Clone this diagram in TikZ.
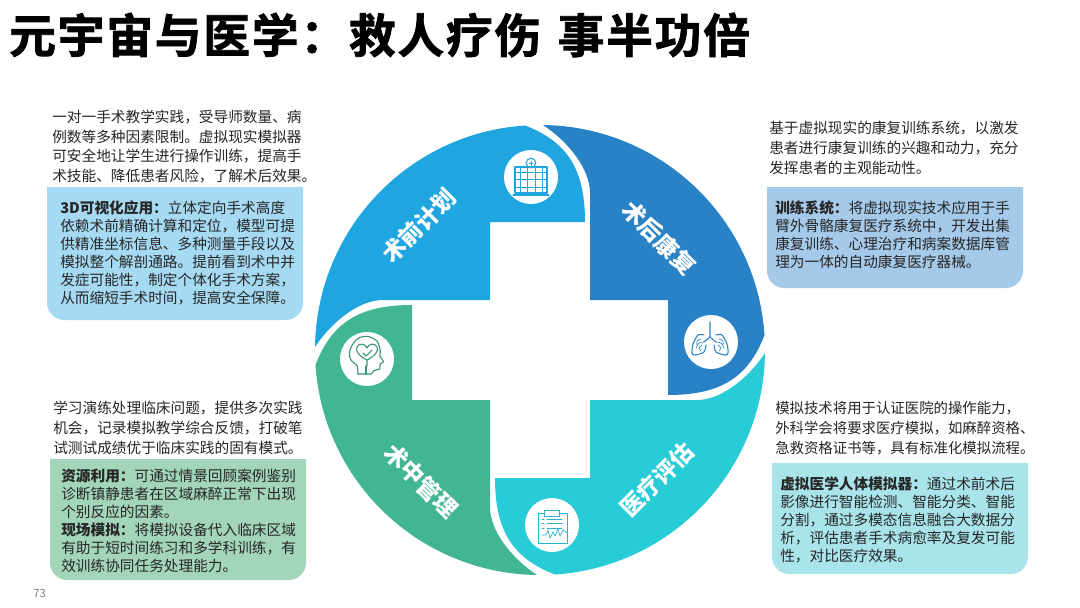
\documentclass[tikz,border=0pt]{standalone}
\usepackage{fontspec}
\setmainfont{Noto Sans CJK SC}
\newfontfamily\titlefont[LetterSpace=4,FakeBold=1.6]{Noto Sans CJK SC Bold}
\definecolor{segPlan}{HTML}{1FA6E0}
\definecolor{segRehab}{HTML}{2A82C6}
\definecolor{segEval}{HTML}{27CCD6}
\definecolor{segManage}{HTML}{42B592}
\definecolor{boxPlan}{HTML}{A5DAF2}
\definecolor{boxRehab}{HTML}{A4C9E9}
\definecolor{boxEval}{HTML}{A8E4EA}
\definecolor{boxManage}{HTML}{A3D5BB}
\definecolor{bodyInk}{HTML}{262626}
\tikzset{
    para/.style={anchor=west, inner sep=0pt, align=left, text=bodyInk, font=\fontsize{11}{14.8}\selectfont},
    boxtext/.style={anchor=west, inner sep=0pt, align=left, text=bodyInk, font=\fontsize{11}{13.4}\selectfont},
    seglabel/.style={text=white, inner sep=0pt, font=\fontsize{17.3}{20}\selectfont\bfseries},
    iconline/.style={line width=0.8pt, line cap=round, line join=round},
    iconthin/.style={line width=0.5pt, line cap=round, line join=round}
}
\newcommand{\softbox}[5]{\fill[#1] (#2,#3) -- (#4,#3) [rounded corners=13pt] -- (#4,#5) -- (#2,#5) [sharp corners] -- cycle;}
\begin{document}
\begin{tikzpicture}[x=0.75pt, y=-0.75pt]
    \fill[white] (0,0) rectangle (1080,607);
    \useasboundingbox (0,0) rectangle (1080,607);

    \coordinate (Mid) at (540,350);

    \foreach \ang/\col in {0/segPlan, -90/segRehab, 180/segEval, 90/segManage} {
        \fill[\col, shift={(Mid)}, rotate=\ang] (-225,-3) arc[start angle=179.24, end angle=93.8, radius=168.75pt]
            .. controls (28,-208) and (45,-180) .. (45,-128) -- (-50,-128) -- (-50,-50) -- (-157,-50)
            .. controls (-180,-50) and (-207,-30) .. (-225,-3) -- cycle;
    }

    \node[seglabel, rotate=45] (planLabel) at (419,226) {术前计划};
    \node[seglabel, rotate=-45] (rehabLabel) at (659,238) {术后康复};
    \node[seglabel, rotate=45] (evalLabel) at (657,480) {医疗评估};
    \node[seglabel, rotate=-45] (manageLabel) at (421,481) {术中管理};

    \fill[white] (531,177) circle (20.25pt);
    \fill[white] (711,342) circle (20.25pt);
    \fill[white] (552,525) circle (20.25pt);
    \fill[white] (367,359) circle (20.25pt);

    \begin{scope}[shift={(531,177)}, draw=segPlan]
        \draw[iconline] (-16,-10) rectangle (16,16);
        \draw[iconline] (-18,18) -- (18,18);
        \draw[iconline] (0,-14) circle (3.6pt);
        \draw[iconthin] (-2,-14) -- (2,-14) (0,-16) -- (0,-12) (0,-10) -- (0,-11);
        \foreach \yy in {-5,2.5,10} {
            \draw[iconthin] (-16,\yy) -- (16,\yy);
        }
        \foreach \xx in {-11,-4,4,11} {
            \draw[iconthin] (\xx,-10) -- (\xx,16);
        }
    \end{scope}

    \begin{scope}[shift={(711,342)}, draw=segRehab]
        \draw[iconline] (-1,-20) -- (-1,-5) -- (-7,0) (-1,-5) -- (5,0);
        \foreach \flip in {-1,1} {
            \begin{scope}[shift={(-1,0)}, xscale=\flip]
                \draw[iconline] plot[smooth] coordinates {(6,-7) (12,-7) (17,2) (18,11) (15,13) (6,10) (4,3)};
                \draw[iconthin] plot[smooth] coordinates {(6,0) (11,1) (14,6)};
                \draw[iconthin] plot[smooth] coordinates {(9,-3) (13,-1) (13,3)};
                \draw[iconthin] plot[smooth] coordinates {(8,3) (11,6) (9,9)};
            \end{scope}
        }
    \end{scope}

    \begin{scope}[shift={(552,525)}, draw=segEval!65!segRehab]
        \draw[iconthin] (-14,-12) rectangle (15,18);
        \draw[iconthin, fill=white] (-8,-15) rectangle (7,-9);
        \foreach \yy in {-6,-2,3} {
            \draw[iconthin] (-10,\yy) -- (-8,\yy) (-5,\yy) -- (10,\yy);
        }
        \draw[iconthin] (-10,10) -- (-6,10) -- (-4,5) -- (-2,13) -- (1,7) -- (3,11) -- (6,4) -- (8,11) -- (11,5) -- (15,8);
    \end{scope}

    \begin{scope}[shift={(367,359)}, draw=segManage!80!black]
        \draw[iconline] plot[smooth] coordinates {(-9,15) (-10,6.7) (-16.7,0) (-16.7,-10) (-10,-20) (0,-22.7) (10,-18) (13.3,-8.3) (12.7,-3.3)};
        \draw[iconline] (12.7,-3.3) -- (16.7,2.7) -- (13.3,5) -- (12.7,10) -- (6.7,11.7) -- (4.3,15) -- (-9,15);
        \draw[iconline] (0,7) .. controls (0,2) and (0,1) .. (0,1) .. controls (-8,-3) and (-12,-8) .. (-10,-12)
            .. controls (-8,-16) and (-2,-16) .. (0,-11) .. controls (2,-16) and (8,-16) .. (10,-12)
            .. controls (12,-8) and (8,-3) .. (0,1);
        \draw[iconline] (-1,7) -- (-1,15);
        \draw[iconline] (-4,-6) -- (-1,-3) -- (5,-9);
    \end{scope}

    \softbox{boxPlan}{47}{187}{303}{320}
    \softbox{boxRehab}{767}{187}{1023}{288}
    \softbox{boxManage}{50}{459}{306}{580}
    \softbox{boxEval}{772}{463}{1028}{574}

    \node[anchor=west, inner sep=0pt, font=\titlefont\fontsize{35}{40}\selectfont] (title) at (9,35) {元宇宙与医学：救人疗伤\hspace{3pt} 事半功倍};

    \node[para] (planPara) at (52,146.5) {一对一手术教学实践，受导师数量、病\\例数等多种因素限制。虚拟现实模拟器\\可安全地让学生进行操作训练，提高手\\术技能、降低患者风险，了解术后效果。};
    \node[boxtext] (planText) at (60,253) {\textbf{3D可视化应用：}立体定向手术高度\\依赖术前精确计算和定位，模型可提\\供精准坐标信息、多种测量手段以及\\模拟整个解剖通路。提前看到术中并\\发症可能性，制定个体化手术方案，\\从而缩短手术时间，提高安全保障。};

    \node[para] (rehabPara) at (769,148) {基于虚拟现实的康复训练系统，以激发\\患者进行康复训练的兴趣和动力，充分\\发挥患者的主观能动性。};
    \node[boxtext] (rehabText) at (775,235) {\textbf{训练系统：}将虚拟现实技术应用于手\\臂外骨骼康复医疗系统中，开发出集\\康复训练、心理治疗和病案数据库管\\理为一体的自动康复医疗器械。};

    \node[para] (managePara) at (53,428) {学习演练处理临床问题，提供多次实践\\机会，记录模拟教学综合反馈，打破笔\\试测试成绩优于临床实践的固有模式。};
    \node[boxtext] (manageText) at (61,521) {\textbf{资源利用：}可通过情景回顾案例鉴别\\诊断镇静患者在区域麻醉正常下出现\\个别反应的因素。\\\textbf{现场模拟：}将模拟设备代入临床区域\\有助于短时间练习和多学科训练，有\\效训练协同任务处理能力。};

    \node[para, font=\fontsize{10.8}{14.8}\selectfont] (evalPara) at (775,428) {模拟技术将用于认证医院的操作能力，\\外科学会将要求医疗模拟，如麻醉资格、\\急救资格证书等，具有标准化模拟流程。};
    \node[boxtext] (evalText) at (780,520) {\textbf{虚拟医学人体模拟器：}通过术前术后\\影像进行智能检测、智能分类、智能\\分割，通过多模态信息融合大数据分\\析，评估患者手术病愈率及复发可能\\性，对比医疗效果。};

    \node[anchor=west, inner sep=0pt, text=black!50, font=\fontsize{8.5}{10}\selectfont] (pageNum) at (33,593) {73};
\end{tikzpicture}
\end{document}
